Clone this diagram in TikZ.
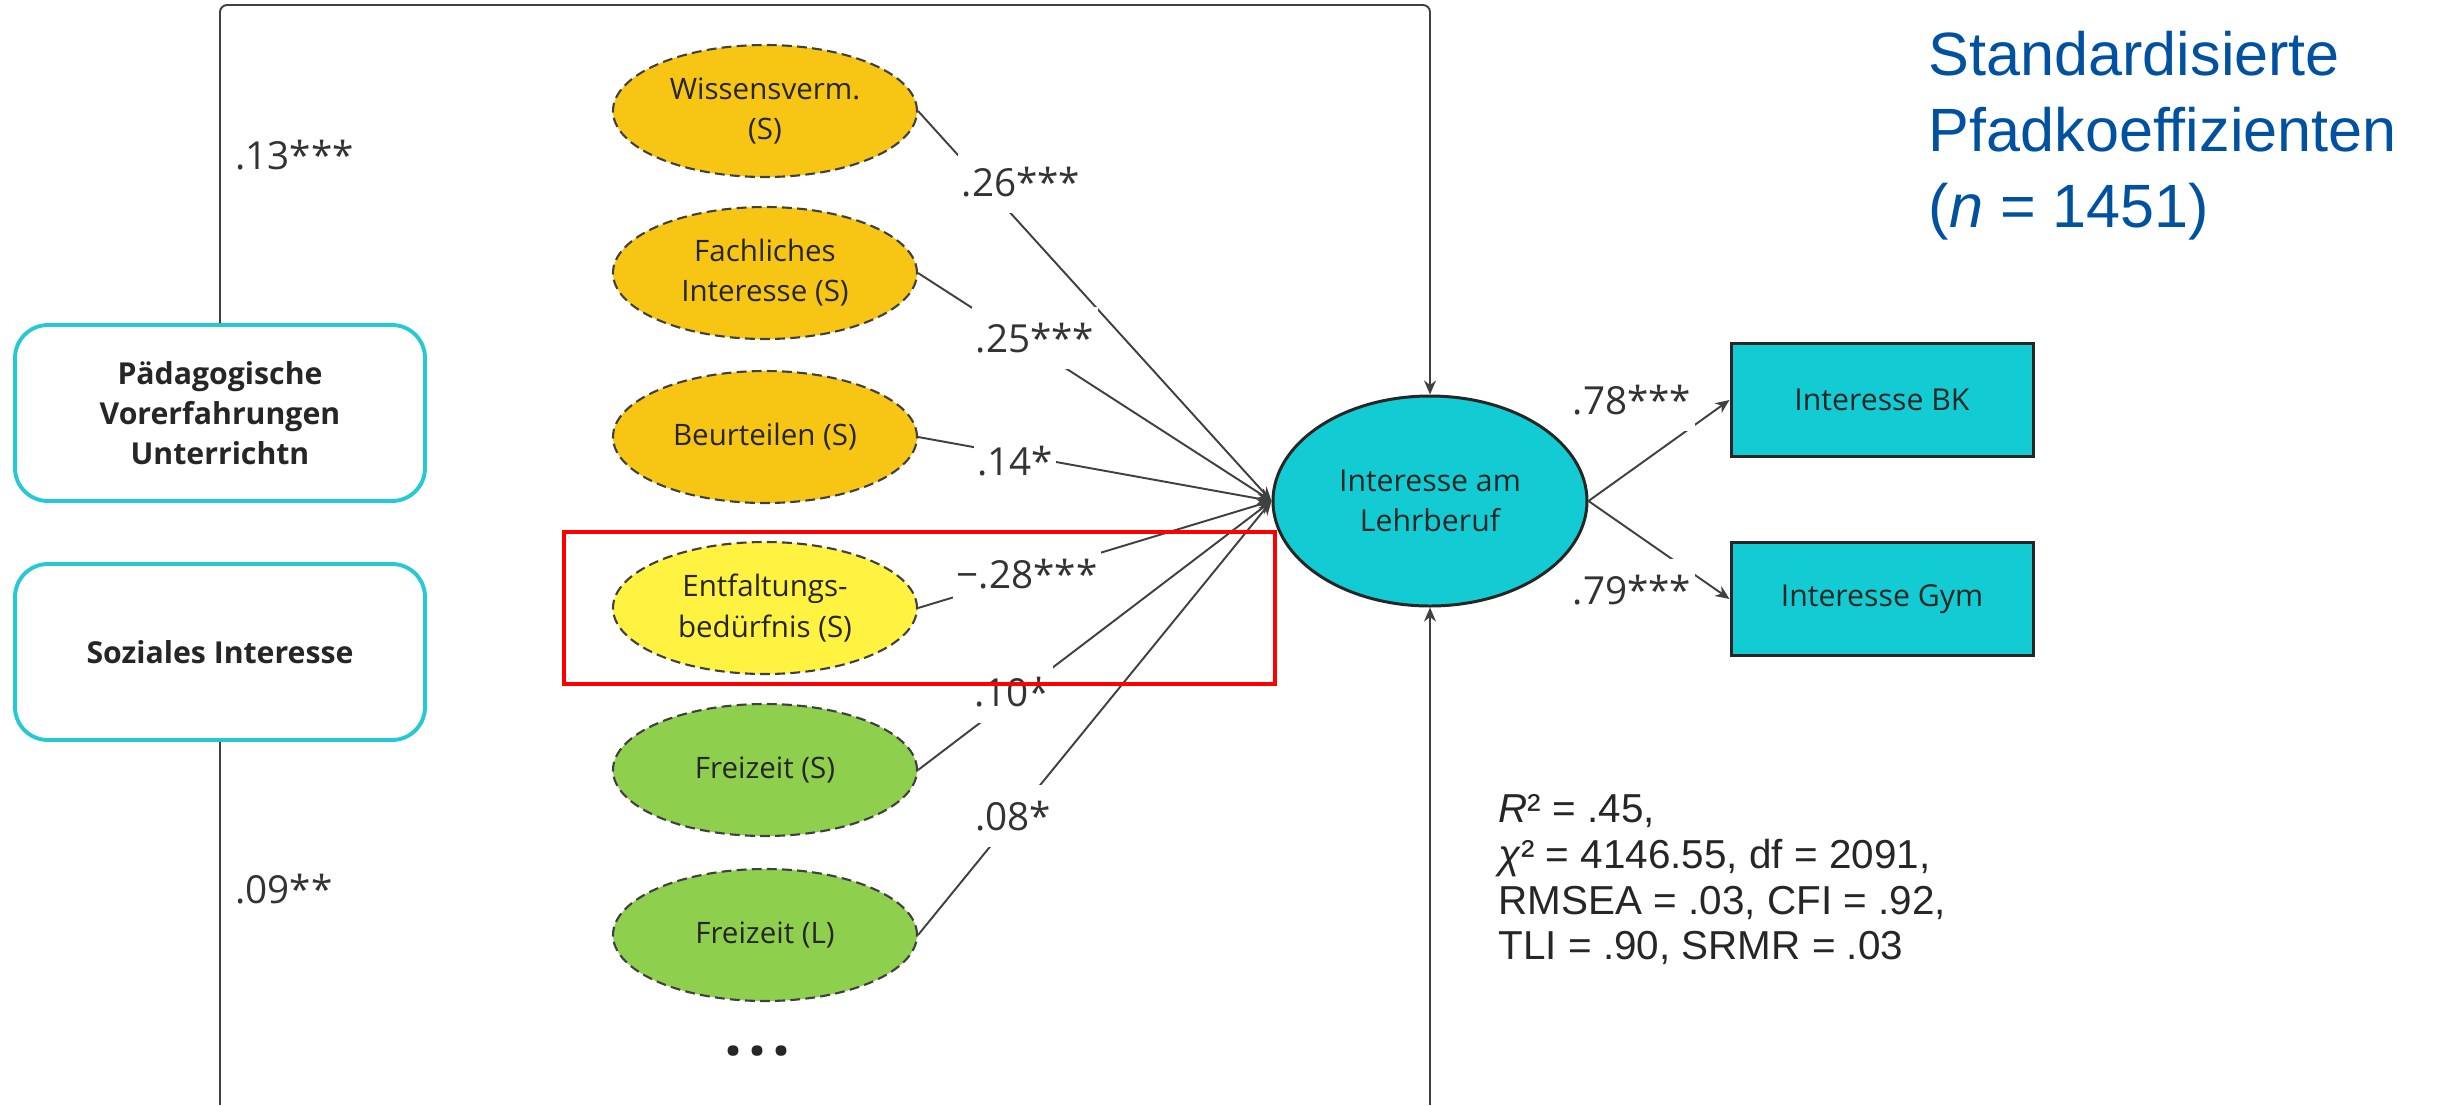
\documentclass[tikz,border=0pt]{standalone}
\usepackage{fontspec}
\setmainfont{Open Sans}
\newfontfamily\arialfont{Liberation Sans}
\usetikzlibrary{shapes.geometric,arrows.meta}
\definecolor{orangeFill}{HTML}{F7C615}
\definecolor{yellowFill}{HTML}{FFF240}
\definecolor{greenFill}{HTML}{8FCF4E}
\definecolor{cyanFill}{HTML}{13CCD3}
\definecolor{cyanLine}{HTML}{25C9D3}
\definecolor{titleBlue}{HTML}{0051A0}
\definecolor{lineGray}{HTML}{404040}
\definecolor{textDark}{HTML}{262626}

\begin{document}
\begin{tikzpicture}[
  every node/.style={text=textDark},
  latent/.style={ellipse, draw=lineGray, dash pattern=on 2.8pt off 1.5pt, line width=0.6pt,
    minimum width=3.04cm, minimum height=1.32cm, inner sep=0pt, align=center,
    font=\fontsize{8.4}{11.4}\selectfont},
  prebox/.style={rectangle, rounded corners=0.33cm, draw=cyanLine, line width=1.1pt, fill=white,
    minimum width=4.10cm, minimum height=1.76cm, align=center,
    font=\bfseries\fontsize{8.6}{11.4}\selectfont},
  outbox/.style={rectangle, draw=black!85, line width=0.85pt, fill=cyanFill,
    minimum width=3.02cm, minimum height=1.13cm, font=\fontsize{8.6}{11.4}\selectfont},
  coef/.style={fill=white, inner xsep=1pt, inner ysep=4.5pt, text=black!80,
    font=\fontsize{11}{13}\selectfont},
  link/.style={draw=lineGray, line width=0.55pt, -{Stealth[length=4pt,width=3.4pt]}}
]
  \useasboundingbox (0,0) rectangle (24.41,-11.05);
  %Predictors on the left
  \node [prebox, name=paed] at (2.20,-4.13) {Pädagogische\\Vorerfahrungen\\Unterrichtn};
  \node [prebox, name=sozial] at (2.20,-6.52) {Soziales Interesse};
  % Latent variables, one column
  \node [latent, fill=orangeFill, name=wiss] at (7.65,-1.11) {Wissensverm.\\(S)};
  \node [latent, fill=orangeFill, name=fach] at (7.65,-2.73) {Fachliches\\Interesse (S)};
  \node [latent, fill=orangeFill, name=beurt] at (7.65,-4.37) {Beurteilen (S)};
  \node [latent, fill=yellowFill, name=entf] at (7.65,-6.08) {Entfaltungs-\\bedürfnis (S)};
  \node [latent, fill=greenFill, name=freiS] at (7.65,-7.70) {Freizeit (S)};
  \node [latent, fill=greenFill, name=freiL] at (7.65,-9.35) {Freizeit (L)};
  \node [name=dots, inner sep=0pt, font=\bfseries\fontsize{18}{18}\selectfont] at (7.58,-10.51) {.\kern1.7pt.\kern1.7pt.};
  % Outcome and indicators
  \node [ellipse, draw=black!85, line width=0.85pt, fill=cyanFill, minimum width=3.14cm, minimum height=2.10cm,
    align=center, font=\fontsize{8.6}{11.4}\selectfont, name=lehr] at (14.30,-5.01) {Interesse am\\Lehrberuf};
  \node [outbox, name=bk] at (18.82,-4.00) {Interesse BK};
  \node [outbox, name=gym] at (18.82,-5.99) {Interesse Gym};
  % Paths into the outcome
  \draw [link] (wiss.east) -- (lehr.west);
  \draw [link] (fach.east) -- (lehr.west);
  \draw [link] (beurt.east) -- (lehr.west);
  \draw [link] (entf.east) -- (lehr.west);
  \draw [link] (freiS.east) -- (lehr.west);
  \draw [link] (freiL.east) -- (lehr.west);
  \draw [link] (lehr.east) -- (bk.west);
  \draw [link] (lehr.east) -- (gym.west);
  % Frame lines from the predictors
  \coordinate (topL) at (2.20,-0.05);
  \coordinate (botL) at (2.20,-11.05);
  \coordinate (botR) at (14.30,-11.05);
  \draw [link, rounded corners=2pt] (paed.north) -- (topL) -| (lehr.north);
  \draw [draw=lineGray, line width=0.55pt] (sozial.south) -- (botL);
  \draw [link] (botR) -- (lehr.south);
  % Coefficients
  \node [coef, anchor=west, name=c13] at (2.31,-1.55) {.13***};
  \node [coef, anchor=west, name=c09] at (2.31,-8.89) {.09**};
  \node [coef, name=c26] at (10.21,-1.82) {.26***};
  \node [coef, name=c25] at (10.35,-3.38) {.25***};
  \node [coef, name=c14] at (10.15,-4.61) {.14*};
  \node [coef, name=c28] at (10.27,-5.74) {−.28***};
  \node [coef, name=c10] at (10.12,-6.92) {.10*};
  \node [coef, name=c08] at (10.13,-8.16) {.08*};
  \node [coef, name=c78] at (16.32,-4.00) {.78***};
  \node [coef, name=c79] at (16.32,-5.90) {.79***};
  % Fit and title
  \node [anchor=north west, align=left, inner sep=0pt, font=\arialfont\fontsize{11.5}{13}\selectfont, name=fit]
    at (14.98,-7.94) {\textit{R}² = .45,\\\textit{χ}² = 4146.55, df = 2091,\\RMSEA = .03, CFI = .92,\\TLI = .90, SRMR = .03};
  \node [anchor=north west, align=left, inner sep=0pt, text=titleBlue, font=\arialfont\fontsize{17.4}{21.7}\selectfont, name=title]
    at (19.28,-0.30) {Standardisierte\\Pfadkoeffizienten\\(\textit{n} = 1451)};
  % Highlight
  \draw [red, line width=1.4pt] (5.64,-5.32) rectangle (12.75,-6.84);
\end{tikzpicture}
\end{document}
